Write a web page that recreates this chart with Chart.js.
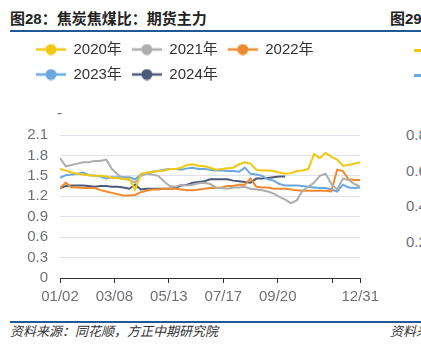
<!DOCTYPE html>
<html>
<head>
<meta charset="utf-8">
<script src="https://cdn.jsdelivr.net/npm/chart.js@4.4.1/dist/chart.umd.min.js"></script>
<style>
  body { margin: 0; width: 421px; height: 351px; overflow: hidden; background: #fff;
         font-family: "Liberation Sans", "Noto Sans CJK SC", sans-serif; position: relative; }
  .abs { position: absolute; white-space: nowrap; }
  .title { font-weight: bold; font-size: 15px; color: #222; line-height: 18px; top: 10px; }
  .rule { position: absolute; height: 1.5px; background: #1f5a96; }
  .src { font-style: italic; font-size: 13px; color: #333; top: 324px; line-height: 16px; }
  .tk { font-size: 15px; color: #6e7079; line-height: 16px; }
  #wrap { position: absolute; left: 0; top: 32px; width: 384px; height: 272px; }
</style>
</head>
<body>
<div class="abs title" style="left:10px">图28：焦炭焦煤比：期货主力</div>
<div class="abs title" style="left:390px">图29</div>
<div class="rule" style="left:10px; width:411px; top:30px"></div>
<div class="abs tk" style="left:57px; top:105px">-</div>
<div class="abs" style="left:414px; top:49px; width:8px; height:3px; background:#f2c80f"></div>
<div class="abs" style="left:414px; top:74px; width:8px; height:3px; background:#6aa8e0"></div>
<div class="abs tk" style="left:406px; top:127px">0.8</div>
<div class="abs tk" style="left:406px; top:163px">0.6</div>
<div class="abs tk" style="left:406px; top:198px">0.4</div>
<div class="abs tk" style="left:406px; top:234px">0.2</div>
<div id="wrap"><canvas id="ratioChart"></canvas></div>
<div class="rule" style="left:10px; width:411px; top:321px"></div>
<div class="abs src" style="left:10px">资料来源：同花顺，方正中期研究院</div>
<div class="abs src" style="left:390px">资料来源</div>

<script>
// day offset from 01/02, weekly samples
const days = [0, 7, 14, 21, 28, 35, 42, 49, 56, 63, 70, 77, 84, 91, 98, 105, 112, 119, 126, 133,
  140, 147, 154, 161, 168, 175, 182, 189, 196, 203, 210, 217, 224, 231, 238, 245, 252, 259, 266, 273,
  280, 287, 294, 301, 308, 315, 322, 329, 336, 343, 350, 357, 364];

const y2020 = [1.60, 1.58, 1.55, 1.53, 1.52, 1.51, 1.50, 1.50, 1.49, 1.47, 1.47, 1.45, 1.46, 1.30, 1.53, 1.55, 1.56, 1.57, 1.58, 1.60,
  1.60, 1.62, 1.66, 1.67, 1.65, 1.64, 1.62, 1.59, 1.60, 1.61, 1.62, 1.67, 1.70, 1.68, 1.59, 1.58, 1.58, 1.57, 1.55, 1.53,
  1.54, 1.57, 1.58, 1.60, 1.82, 1.76, 1.84, 1.78, 1.74, 1.65, 1.66, 1.68, 1.70];
const y2021 = [1.76, 1.64, 1.66, 1.68, 1.70, 1.70, 1.72, 1.72, 1.74, 1.60, 1.52, 1.46, 1.44, 1.40, 1.50, 1.53, 1.52, 1.50, 1.42, 1.35,
  1.34, 1.37, 1.36, 1.37, 1.39, 1.40, 1.38, 1.33, 1.32, 1.31, 1.33, 1.33, 1.34, 1.31, 1.30, 1.29, 1.27, 1.24, 1.19, 1.15,
  1.10, 1.14, 1.28, 1.34, 1.40, 1.50, 1.53, 1.38, 1.30, 1.46, 1.44, 1.38, 1.34];
const y2022 = [1.32, 1.40, 1.33, 1.33, 1.32, 1.32, 1.32, 1.29, 1.27, 1.25, 1.23, 1.21, 1.21, 1.22, 1.26, 1.28, 1.30, 1.30, 1.31, 1.31,
  1.31, 1.30, 1.29, 1.29, 1.30, 1.31, 1.32, 1.32, 1.33, 1.35, 1.35, 1.37, 1.37, 1.46, 1.34, 1.33, 1.33, 1.31, 1.31, 1.31,
  1.30, 1.29, 1.28, 1.28, 1.28, 1.28, 1.28, 1.27, 1.59, 1.57, 1.45, 1.44, 1.44];
const y2023 = [1.47, 1.51, 1.52, 1.53, 1.55, 1.51, 1.50, 1.49, 1.46, 1.48, 1.48, 1.48, 1.48, 1.45, 1.52, 1.53, 1.56, 1.57, 1.59, 1.60,
  1.60, 1.59, 1.61, 1.62, 1.60, 1.60, 1.59, 1.58, 1.58, 1.57, 1.57, 1.56, 1.62, 1.53, 1.52, 1.50, 1.45, 1.43, 1.38, 1.36,
  1.36, 1.36, 1.35, 1.34, 1.33, 1.32, 1.32, 1.30, 1.27, 1.37, 1.33, 1.32, 1.33];
const y2024 = [1.32, 1.35, 1.36, 1.36, 1.36, 1.35, 1.34, 1.35, 1.35, 1.34, 1.34, 1.33, 1.31, 1.37, 1.30, 1.31, 1.31, 1.31, 1.31, 1.31,
  1.32, 1.36, 1.37, 1.40, 1.41, 1.42, 1.45, 1.45, 1.45, 1.45, 1.43, 1.42, 1.41, 1.40, 1.46, 1.46, 1.47, 1.48, 1.49, 1.49];

const seriesNames = ['2020年', '2021年', '2022年', '2023年', '2024年'];
const seriesColors = ['#f2c80f', '#aeaeae', '#f08a30', '#6aa8e0', '#4c5b7a'];
const seriesValues = [y2020, y2021, y2022, y2023, y2024];

const tickDays = [0, 66, 132, 198, 264, 330, 364];
const tickLabels = ['01/02', '03/08', '05/13', '07/17', '09/20', '', '12/31'];
const yTicks = [0, 0.3, 0.6, 0.9, 1.2, 1.5, 1.8, 2.1];

// legend marker: short line with a dot in the middle
function legendIcon(color) {
    const c = document.createElement('canvas');
    c.width = 30;
    c.height = 12;
    const g = c.getContext('2d');
    g.strokeStyle = color;
    g.lineWidth = 2.5;
    g.beginPath();
    g.moveTo(0, 6);
    g.lineTo(30, 6);
    g.stroke();
    g.fillStyle = color;
    g.beginPath();
    g.arc(15, 6, 5.5, 0, Math.PI * 2);
    g.fill();
    return c;
}

const datasets = seriesNames.map((name, i) => ({
    label: name,
    data: seriesValues[i].map((v, k) => ({ x: days[k], y: v })),
    borderColor: seriesColors[i],
    backgroundColor: seriesColors[i],
    borderWidth: 2,
    pointRadius: 0,
    pointStyle: legendIcon(seriesColors[i]),
    tension: 0,
    fill: false
}));

const legendHeight = {
    id: 'legendHeight',
    beforeInit(chart) {
        const fit = chart.legend.fit;
        chart.legend.fit = function () {
            fit.bind(chart.legend)();
            this.height = 103;
        };
    }
};

const ctx = document.getElementById('ratioChart').getContext('2d');
new Chart(ctx, {
    type: 'line',
    data: { datasets: datasets },
    plugins: [legendHeight],
    options: {
        responsive: true,
        maintainAspectRatio: false,
        animation: false,
        layout: { padding: { left: 26, right: 20, top: 0, bottom: 0 } },
        plugins: {
            legend: {
                position: 'top',
                align: 'start',
                labels: {
                    usePointStyle: true,
                    pointStyleWidth: 30,
                    padding: 10,
                    color: '#333',
                    font: { size: 15, family: '"Liberation Sans", "Noto Sans CJK SC"' }
                }
            },
            tooltip: { enabled: false }
        },
        scales: {
            x: {
                type: 'linear',
                min: 0,
                max: 364,
                afterBuildTicks: s => { s.ticks = tickDays.map(v => ({ value: v })); },
                afterFit: s => { s.height = 26; },
                grid: { drawOnChartArea: false, drawTicks: true, tickLength: 5, color: '#333' },
                border: { display: true, color: '#333', width: 1 },
                ticks: {
                    autoSkip: false,
                    maxRotation: 0,
                    padding: 5,
                    color: '#6e7079',
                    font: { size: 15, family: '"Liberation Sans"' },
                    callback: (v, i) => tickLabels[i]
                }
            },
            y: {
                min: 0,
                max: 2.1,
                afterBuildTicks: s => { s.ticks = yTicks.map(v => ({ value: v })); },
                afterFit: s => { s.width = 34; },
                grid: { color: '#dfe2ee', drawTicks: false },
                border: { display: false },
                ticks: {
                    autoSkip: false,
                    padding: 12,
                    color: '#6e7079',
                    font: { size: 15, family: '"Liberation Sans"' },
                    callback: v => String(+v.toFixed(1))
                }
            }
        }
    }
});
</script>
</body>
</html>
